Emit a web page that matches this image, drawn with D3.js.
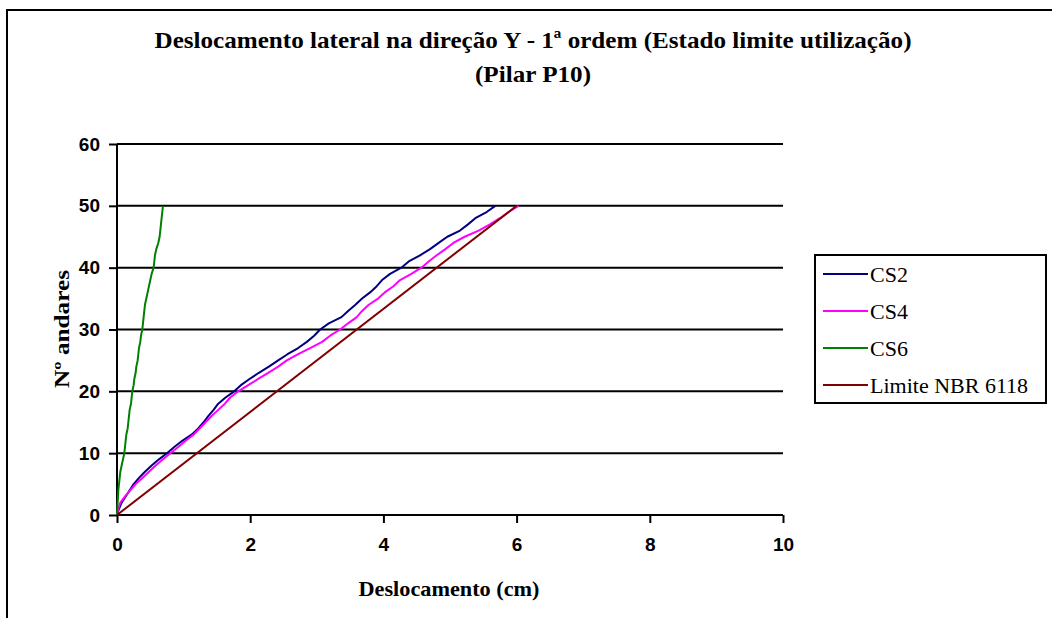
<!DOCTYPE html>
<html>
<head>
<meta charset="utf-8">
<script src="https://cdn.jsdelivr.net/npm/d3@7"></script>
<style>
  body { margin: 0; background: #fff; }
  svg { display: block; }
  .tick text { font-family: "Liberation Sans", Arial, sans-serif; font-weight: bold; font-size: 19px; fill: #000; }
  .ttl { font-family: "Liberation Serif", "Times New Roman", serif; font-weight: bold; fill: #000; }
  .leg { font-family: "Liberation Serif", "Times New Roman", serif; font-size: 22px; fill: #000; }
</style>
</head>
<body>
<div id="chart"></div>
<script>
'use strict'
// floors 0..50
const floors = d3.range(0, 51)
const cs2 = [0,0.03,0.07,0.13,0.19,0.25,0.33,0.42,0.52,0.63,0.75,0.86,0.98,1.12,1.22,1.30,1.37,1.45,1.52,1.63,
  1.76,1.86,1.99,2.13,2.28,2.42,2.56,2.72,2.85,2.96,3.05,3.18,3.37,3.47,3.58,3.68,3.80,3.90,3.98,4.10,
  4.27,4.38,4.55,4.70,4.83,4.96,5.15,5.27,5.38,5.55,5.68]
const cs4 = [0,0.02,0.05,0.12,0.20,0.28,0.38,0.48,0.58,0.69,0.80,0.92,1.03,1.15,1.24,1.33,1.42,1.52,1.62,1.70,
  1.82,1.97,2.12,2.27,2.42,2.55,2.72,2.90,3.08,3.20,3.35,3.47,3.60,3.68,3.78,3.92,4.02,4.15,4.25,4.42,
  4.57,4.68,4.80,4.93,5.05,5.22,5.43,5.60,5.75,5.88,6.03]
const cs6 = [0,0.005,0.01,0.015,0.02,0.03,0.04,0.05,0.07,0.09,0.11,0.12,0.13,0.14,0.16,0.17,0.18,0.19,0.21,0.22,
  0.23,0.25,0.26,0.28,0.29,0.31,0.32,0.33,0.35,0.36,0.38,0.39,0.40,0.41,0.42,0.44,0.46,0.48,0.50,0.52,
  0.55,0.56,0.57,0.59,0.62,0.64,0.65,0.66,0.67,0.68,0.69]
const limFloors = [0, 50]
const limite = [0, 6]

const seriesNames = ["CS2", "CS4", "CS6", "Limite NBR 6118"]
const seriesColors = ["#000080", "#ff00ff", "#008000", "#800000"]
const xTicks = [0, 2, 4, 6, 8, 10]
const yTicks = [0, 10, 20, 30, 40, 50, 60]

const W = 1052, H = 618
const svg = d3.select("#chart").append("svg")
  .attr("width", W).attr("height", H)

// outer chart border (top + left visible)
svg.append("path")
  .attr("d", `M7,${H} L7,10 L${W},10`)
  .attr("fill", "none").attr("stroke", "#000").attr("stroke-width", 2)

const x = d3.scaleLinear().domain([0, 10]).range([117, 783])
const y = d3.scaleLinear().domain([0, 60]).range([515, 144])

// gridlines
svg.append("g")
  .selectAll("line")
  .data(yTicks.filter(d => d > 0))
  .enter().append("line")
    .attr("x1", x(0)).attr("x2", x(10))
    .attr("y1", d => y(d)).attr("y2", d => y(d))
    .attr("stroke", "#000").attr("stroke-width", 2)

// axes
const yAxis = svg.append("g")
  .attr("transform", `translate(${x(0)},0)`)
  .call(d3.axisLeft(y).tickValues(yTicks).tickSize(8).tickPadding(9).tickSizeOuter(0))
const xAxis = svg.append("g")
  .attr("transform", `translate(0,${y(0)})`)
  .call(d3.axisBottom(x).tickValues(xTicks).tickSize(8).tickPadding(15).tickSizeOuter(0))
svg.selectAll(".domain, .tick line").attr("stroke", "#000").attr("stroke-width", 2)
xAxis.select(".domain").attr("d", `M${x(0)},0H${x(10)}`)
yAxis.select(".domain").attr("d", `M0,${y(0)}V${y(60)}`)

// series
const line = d3.line().x(d => x(d[0])).y(d => y(d[1]))
const data = [
  cs2.map((v, i) => [v, floors[i]]),
  cs4.map((v, i) => [v, floors[i]]),
  cs6.map((v, i) => [v, floors[i]]),
  limite.map((v, i) => [v, limFloors[i]])
]
svg.append("g")
  .selectAll("path")
  .data(data)
  .enter().append("path")
    .attr("d", line)
    .attr("fill", "none")
    .attr("stroke", (d, i) => seriesColors[i])
    .attr("stroke-width", 2)
    .attr("stroke-linejoin", "round")

// titles
svg.append("text").attr("class", "ttl")
  .attr("x", 533).attr("y", 48).attr("text-anchor", "middle")
  .attr("font-size", 24)
  .attr("textLength", 757).attr("lengthAdjust", "spacingAndGlyphs")
  .text("Deslocamento lateral na direção Y - 1ª ordem (Estado limite utilização)")
svg.append("text").attr("class", "ttl")
  .attr("x", 533).attr("y", 82).attr("text-anchor", "middle")
  .attr("font-size", 24)
  .attr("textLength", 116).attr("lengthAdjust", "spacingAndGlyphs")
  .text("(Pilar P10)")
svg.append("text").attr("class", "ttl")
  .attr("x", 449).attr("y", 596).attr("text-anchor", "middle")
  .attr("font-size", 22)
  .attr("textLength", 181).attr("lengthAdjust", "spacingAndGlyphs")
  .text("Deslocamento (cm)")
svg.append("text").attr("class", "ttl")
  .attr("transform", "translate(69,329) rotate(-90)")
  .attr("text-anchor", "middle")
  .attr("font-size", 22)
  .attr("textLength", 118).attr("lengthAdjust", "spacingAndGlyphs")
  .text("Nº andares")

// legend
const legend = svg.append("g")
legend.append("rect")
  .attr("x", 815).attr("y", 255).attr("width", 231).attr("height", 148)
  .attr("fill", "#fff").attr("stroke", "#000").attr("stroke-width", 2)
const ly = d3.scalePoint().domain(seriesNames).range([274, 385])
const items = legend.selectAll("g.item")
  .data(seriesNames)
  .enter().append("g").attr("class", "item")
    .attr("transform", d => `translate(0,${ly(d)})`)
items.append("line")
  .attr("x1", 823).attr("x2", 868)
  .attr("stroke", (d, i) => seriesColors[i]).attr("stroke-width", 2)
items.append("text").attr("class", "leg")
  .attr("x", 870).attr("dy", "0.35em")
  .text(d => d)
</script>
</body>
</html>
